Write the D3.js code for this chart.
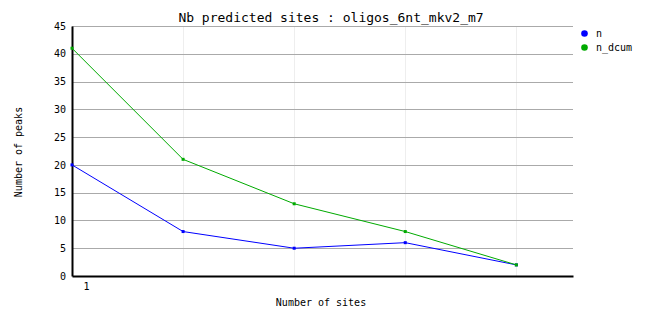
<!DOCTYPE html>
<html><head><meta charset="utf-8">
<script src="https://cdn.jsdelivr.net/npm/d3@7"></script>
<style>body{margin:0;background:#fff}svg{display:block}text{font-family:"DejaVu Sans Mono",monospace}</style>
</head><body>
<script>
const sites = [1, 2, 3, 4, 5];
const nValues = [20, 8, 5, 6, 2];
const nDcumValues = [41, 21, 13, 8, 2];
const yTicks = [0, 5, 10, 15, 20, 25, 30, 35, 40, 45];
const xTickLabels = ["1"];
const seriesNames = ["n", "n_dcum"];
const seriesColors = ["#0000ff", "#00aa00"];

const W = 662, H = 328;
const svg = d3.select("body").append("svg").attr("width", W).attr("height", H);
const x = d3.scaleLinear().domain([1, 5.51]).range([72, 573]);
const y = d3.scaleLinear().domain([0, 45]).range([276, 26]);

// vertical light grid
svg.append("g").selectAll("line").data(sites.slice(1)).join("line")
  .attr("x1", d => Math.round(x(d)) + 0.5).attr("x2", d => Math.round(x(d)) + 0.5)
  .attr("y1", y(45)).attr("y2", y(0)).attr("stroke", "#eeeeee");
// horizontal grid
svg.append("g").selectAll("line").data(yTicks.slice(1)).join("line")
  .attr("x1", x(1)).attr("x2", x.range()[1])
  .attr("y1", d => Math.round(y(d)) + 0.5).attr("y2", d => Math.round(y(d)) + 0.5)
  .attr("stroke", "#aaaaaa");

// y axis
const yAxis = d3.axisLeft(y).tickValues(yTicks).tickSize(0).tickPadding(6);
const gy = svg.append("g").attr("transform", `translate(${x(1)},0)`).call(yAxis);
gy.select(".domain").attr("stroke", "#000").attr("stroke-width", 2);
gy.selectAll("text").attr("font-size", 10).attr("fill", "#000").attr("font-family", "DejaVu Sans Mono");

// x axis
const xAxis = d3.axisBottom(x).tickValues([1]).tickFormat((d, i) => xTickLabels[i]).tickSize(0).tickPadding(7);
const gx = svg.append("g").attr("transform", `translate(0,${y(0)})`).call(xAxis);
gx.select(".domain").attr("stroke", "#000").attr("stroke-width", 2);
gx.selectAll("text").attr("font-size", 10).attr("fill", "#000").attr("font-family", "DejaVu Sans Mono").attr("dx", 14);

// lines
const series = [nValues, nDcumValues];
const line = d3.line().x((d, i) => x(sites[i])).y(d => y(d));
series.forEach((vals, k) => {
  svg.append("path").datum(vals).attr("d", line).attr("fill", "none")
    .attr("stroke", seriesColors[k]).attr("stroke-width", 1);
  svg.append("g").selectAll("rect").data(vals).join("rect")
    .attr("x", (d, i) => x(sites[i]) - 1.5).attr("y", d => y(d) - 1.5)
    .attr("width", 3).attr("height", 3).attr("fill", seriesColors[k]);
});

// title
svg.append("text").attr("x", 331).attr("y", 22).attr("text-anchor", "middle")
  .attr("font-size", 13).text("Nb predicted sites : oligos_6nt_mkv2_m7");
// axis labels
svg.append("text").attr("x", 321).attr("y", 306).attr("text-anchor", "middle")
  .attr("font-size", 10).text("Number of sites");
svg.append("text").attr("transform", "translate(22,152) rotate(-90)").attr("text-anchor", "middle")
  .attr("font-size", 10).text("Number of peaks");

// legend
const lg = svg.append("g");
seriesNames.forEach((name, k) => {
  lg.append("circle").attr("cx", 584.5).attr("cy", 33.5 + 14 * k).attr("r", 3.3).attr("fill", seriesColors[k]);
  lg.append("text").attr("x", 596).attr("y", 37 + 14 * k).attr("font-size", 10).text(name);
});
</script>
</body></html>
